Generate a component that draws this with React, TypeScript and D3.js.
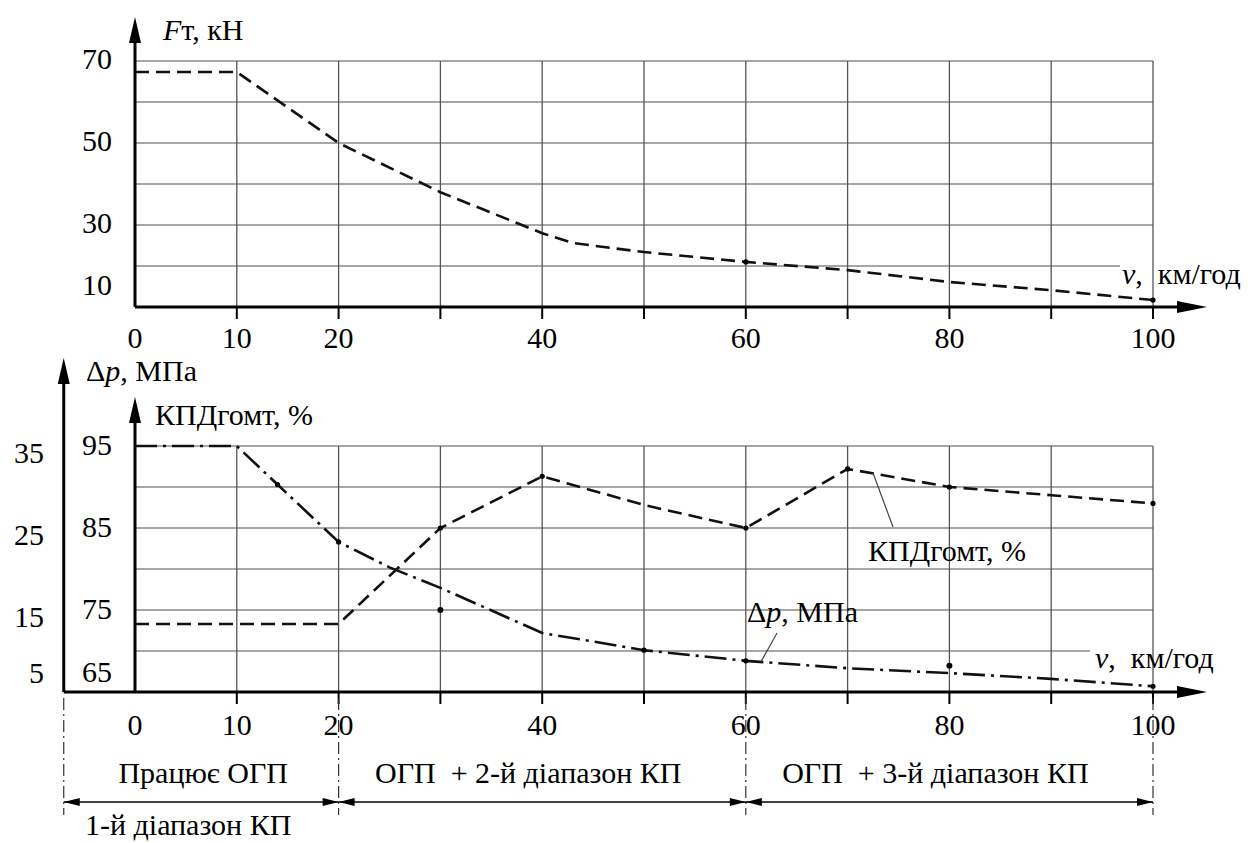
import React from 'react';
import * as d3 from 'd3';

// top chart: traction force vs speed
const ftSpeed = [0, 10, 20, 30, 40, 43, 50, 60, 70, 80, 90, 100];
const ftValues = [67.3, 67.3, 50, 38, 28, 25.6, 23.4, 21, 19, 16.1, 14.1, 11.7];
const ftDots = [60, 100];
const ftTickLabels = [70, 50, 30, 10];
const ftGrid = [20, 30, 40, 50, 60, 70];

// bottom chart: efficiency and pressure drop
const kpdSpeed = [0, 20, 30, 40, 50, 60, 70, 80, 90, 100];
const kpdValues = [73.3, 73.3, 85, 91.3, 87.8, 85, 92.2, 90, 89, 88];
const kpdDots = [30, 40, 60, 70, 80, 100];
const dpSpeed = [0, 10, 14, 20, 25, 30, 40, 50, 60, 70, 80, 90, 100];
const dpValues = [35, 35, 30.3, 23.3, 20.2, 17.7, 12.2, 10.1, 8.8, 7.9, 7.3, 6.6, 5.7];
const dpDots = [14, 20, 50, 60, 100];
const dpStray = [[30, 15], [80, 8.2]];
const kpdTickLabels = [95, 85, 75, 65];
const dpTickLabels = [35, 25, 15, 5];
const kpdGrid = [70, 75, 80, 85, 90, 95];

const speedTicks = [10, 20, 30, 40, 50, 60, 70, 80, 90, 100];
const speedLabels = [0, 10, 20, 40, 60, 80, 100];

const ranges = [
  { from: -7, to: 20, label: 'Працює ОГП' },
  { from: 20, to: 60, label: 'ОГП  + 2-й діапазон КП' },
  { from: 60, to: 100, label: 'ОГП  + 3-й діапазон КП' },
];

const FONT = "'Liberation Serif', 'DejaVu Serif', 'Noto Serif', serif";
const FS = 30;

const xS = d3.scaleLinear().domain([0, 100]).range([135, 1153]);
const yTop = d3.scaleLinear().domain([10, 70]).range([307, 61]);
const yKpd = d3.scaleLinear().domain([65, 95]).range([692, 446]);
const yDp = d3.scaleLinear().domain([5, 35]).range([692, 446]);

const topBase = yTop(10);
const botBase = yKpd(65);
const outerX = xS(-7);

function arrowUp(x: number, tip: number) {
  return `M${x},${tip} L${x - 6},${tip + 26} L${x + 6},${tip + 26} Z`;
}
function arrowRight(tip: number, y: number) {
  return `M${tip},${y} L${tip - 30},${y - 6} L${tip - 30},${y + 6} Z`;
}
function dimHead(tip: number, y: number, dir: number) {
  return `M${tip},${y} L${tip + dir * 16},${y - 4} L${tip + dir * 16},${y + 4} Z`;
}

const txt: React.CSSProperties = { fontFamily: FONT, fontSize: FS, whiteSpace: 'pre' };

export default function App() {
  const ftPath = d3
    .line<number>()
    .x((_, i) => xS(ftSpeed[i]))
    .y((d) => yTop(d))(ftValues);
  const kpdPath = d3
    .line<number>()
    .x((_, i) => xS(kpdSpeed[i]))
    .y((d) => yKpd(d))(kpdValues);
  const dpPath = d3
    .line<number>()
    .x((_, i) => xS(dpSpeed[i]))
    .y((d) => yDp(d))(dpValues);

  const at = (xs: number[], ys: number[], v: number) => ys[xs.indexOf(v)];

  const dimY = 802;

  return (
    <div style={{ position: 'absolute', left: 0, top: 0 }}>
      <svg width={1256} height={843} style={{ display: 'block', background: '#fff' }}>
        {/* ---------- top chart ---------- */}
        {ftGrid.map((v) => (
          <line key={'tg' + v} x1={xS(0)} x2={v === 20 ? 1120 : xS(100)} y1={yTop(v)} y2={yTop(v)} stroke="#888" strokeWidth={1.6} />
        ))}
        {speedTicks.map((v) => (
          <line key={'tv' + v} x1={xS(v)} x2={xS(v)} y1={yTop(70)} y2={topBase} stroke="#555" strokeWidth={1.3} />
        ))}
        {speedTicks.map((v) => (
          <line key={'tt' + v} x1={xS(v)} x2={xS(v)} y1={topBase} y2={topBase + 12} stroke="#000" strokeWidth={2} />
        ))}
        <line x1={xS(0)} x2={1180} y1={topBase} y2={topBase} stroke="#000" strokeWidth={3} />
        <path d={arrowRight(1207, topBase)} fill="#000" />
        <line x1={xS(0)} x2={xS(0)} y1={topBase} y2={35} stroke="#000" strokeWidth={3} />
        <path d={arrowUp(xS(0), 17)} fill="#000" />
        <path d={ftPath ?? ''} fill="none" stroke="#111" strokeWidth={2.6} strokeDasharray="14,7" />
        {ftDots.map((v) => (
          <circle key={'fd' + v} cx={xS(v)} cy={yTop(at(ftSpeed, ftValues, v))} r={2.6} fill="#000" />
        ))}
        {ftTickLabels.map((v) => (
          <text key={'fl' + v} style={txt} x={112} y={Math.min(yTop(v) - 3, topBase - 23)} textAnchor="end" dominantBaseline="central">
            {v}
          </text>
        ))}
        {speedLabels.map((v) => (
          <text key={'sl' + v} style={txt} x={xS(v)} y={348} textAnchor="middle">
            {v}
          </text>
        ))}
        <text style={txt} x={163} y={40}>
          <tspan fontStyle="italic">F</tspan>
          <tspan>т, кН</tspan>
        </text>
        <text style={txt} x={1122} y={284}>
          <tspan fontStyle="italic">v</tspan>
          <tspan>,  км/год</tspan>
        </text>

        {/* ---------- bottom chart ---------- */}
        {kpdGrid.map((v) => (
          <line key={'bg' + v} x1={xS(0)} x2={v === 70 ? 1090 : xS(100)} y1={yKpd(v)} y2={yKpd(v)} stroke="#888" strokeWidth={1.6} />
        ))}
        {speedTicks.map((v) => (
          <line key={'bv' + v} x1={xS(v)} x2={xS(v)} y1={yKpd(95)} y2={botBase} stroke="#555" strokeWidth={1.3} />
        ))}
        {speedTicks.map((v) => (
          <line key={'bt' + v} x1={xS(v)} x2={xS(v)} y1={botBase} y2={botBase + 12} stroke="#000" strokeWidth={2} />
        ))}
        <line x1={outerX} x2={1180} y1={botBase} y2={botBase} stroke="#000" strokeWidth={3} />
        <path d={arrowRight(1207, botBase)} fill="#000" />
        <line x1={xS(0)} x2={xS(0)} y1={botBase} y2={415} stroke="#000" strokeWidth={3} />
        <path d={arrowUp(xS(0), 397)} fill="#000" />
        <line x1={outerX} x2={outerX} y1={botBase} y2={376} stroke="#000" strokeWidth={3} />
        <path d={arrowUp(outerX, 358)} fill="#000" />

        <path d={kpdPath ?? ''} fill="none" stroke="#111" strokeWidth={2.6} strokeDasharray="14,7" />
        <path d={dpPath ?? ''} fill="none" stroke="#111" strokeWidth={2.6} strokeDasharray="22,6,3,6" />
        {kpdDots.map((v) => (
          <circle key={'kd' + v} cx={xS(v)} cy={yKpd(at(kpdSpeed, kpdValues, v))} r={2.6} fill="#000" />
        ))}
        {dpDots.map((v) => (
          <circle key={'dd' + v} cx={xS(v)} cy={yDp(at(dpSpeed, dpValues, v))} r={2.6} fill="#000" />
        ))}
        {dpStray.map(([v, p]) => (
          <circle key={'ds' + v} cx={xS(v)} cy={yDp(p)} r={3} fill="#000" />
        ))}

        {kpdTickLabels.map((v) => (
          <text key={'kl' + v} style={txt} x={112} y={Math.min(yKpd(v) - 2, botBase - 21)} textAnchor="end" dominantBaseline="central">
            {v}
          </text>
        ))}
        {dpTickLabels.map((v) => (
          <text key={'pl' + v} style={txt} x={44} y={Math.min(yDp(v) + 6, botBase - 20)} textAnchor="end" dominantBaseline="central">
            {v}
          </text>
        ))}
        {speedLabels.map((v) => (
          <text key={'bl' + v} style={txt} x={xS(v)} y={735} textAnchor="middle">
            {v}
          </text>
        ))}
        <text style={txt} x={86} y={381}>
          <tspan>Δ</tspan>
          <tspan fontStyle="italic">p</tspan>
          <tspan>, МПа</tspan>
        </text>
        <text style={txt} x={155} y={425}>КПДгомт, %</text>
        <text style={txt} x={1095} y={668}>
          <tspan fontStyle="italic">v</tspan>
          <tspan>,  км/год</tspan>
        </text>

        {/* curve labels with leaders */}
        <line x1={xS(72.5)} y1={yKpd(91.7)} x2={893} y2={527} stroke="#444" strokeWidth={1.2} />
        <text style={txt} x={868} y={561}>КПДгомт, %</text>
        <line x1={xS(61.5)} y1={yDp(8.7)} x2={777} y2={633} stroke="#444" strokeWidth={1.2} />
        <text style={txt} x={747} y={622}>
          <tspan>Δ</tspan>
          <tspan fontStyle="italic">p</tspan>
          <tspan>, МПа</tspan>
        </text>

        {/* gear ranges */}
        {[-7, 20, 60, 100].map((v) => (
          <line key={'rb' + v} x1={xS(v)} x2={xS(v)} y1={botBase + 6} y2={815} stroke="#333" strokeWidth={1.2} strokeDasharray="12,4,2,4" />
        ))}
        <line x1={outerX} x2={xS(100)} y1={dimY} y2={dimY} stroke="#000" strokeWidth={1.5} />
        {ranges.map((r) => (
          <g key={r.label}>
            <path d={dimHead(xS(r.from), dimY, 1)} fill="#000" />
            <path d={dimHead(xS(r.to), dimY, -1)} fill="#000" />
            <text style={txt} x={(xS(r.from) + xS(r.to)) / 2 - (r.from < 0 ? -2 : 14)} y={783} textAnchor="middle">
              {r.label}
            </text>
          </g>
        ))}
        <text style={txt} x={85} y={835}>1-й діапазон КП</text>
      </svg>
    </div>
  );
}
